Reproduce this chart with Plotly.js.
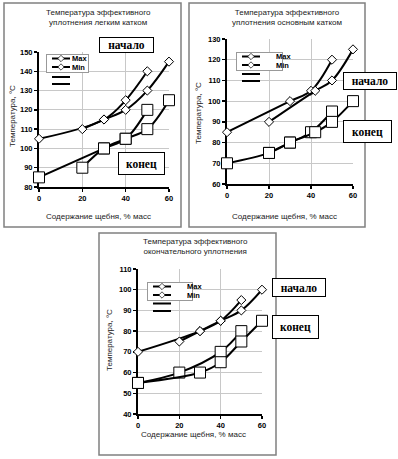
<!DOCTYPE html>
<html><head><meta charset="utf-8">
<script src="https://cdn.plot.ly/plotly-3.0.1.min.js"></script>
<style>html,body{margin:0;padding:0;background:#fff;}#chart{width:398px;height:459px;}</style>
</head><body><div id="chart"></div>
<script>
// ---- data ----
// Chart 1: light roller
const c1StartMaxX = [0, 30, 40, 50];
const c1StartMaxY = [105, 115, 125, 140];
const c1StartMinX = [20, 30, 40, 50, 60];
const c1StartMinY = [110, 115, 120, 130, 145];
const c1EndMaxX = [0, 30, 40, 50];
const c1EndMaxY = [85, 100, 105, 120];
const c1EndMinX = [20, 30, 40, 50, 60];
const c1EndMinY = [90, 100, 105, 110, 125];
// Chart 2: main roller
const c2StartMaxX = [0, 30, 40, 50];
const c2StartMaxY = [85, 100, 105, 120];
const c2StartMinX = [20, 42, 50, 60];
const c2StartMinY = [90, 105, 110, 125];
const c2EndMaxX = [0, 20, 30, 40, 50];
const c2EndMaxY = [70, 75, 80, 85, 95];
const c2EndMinX = [20, 30, 42, 50, 60];
const c2EndMinY = [75, 80, 85, 90, 100];
// Chart 3: final compaction
const c3StartMaxX = [0, 30, 40, 50];
const c3StartMaxY = [70, 80, 85, 95];
const c3StartMinX = [20, 30, 40, 50, 60];
const c3StartMinY = [75, 80, 85, 90, 100];
const c3EndMaxX = [0, 20, 40, 50];
const c3EndMaxY = [55, 60, 70, 80];
const c3EndMinX = [0, 30, 40, 50, 60];
const c3EndMinY = [55, 60, 65, 75, 85];

const seriesNames = ['Max', 'Min', ' ', ' '];
const xTickVals = [0, 20, 40, 60];
const y1Range = [80, 150];
const y2Range = [60, 130];
const y3Range = [40, 110];
const titles = ['Температура эффективного<br>уплотнения легким катком',
                'Температура эффективного<br>уплотнения основным катком',
                'Температура эффективного<br>окончательного уплотнения'];
const xTitle = 'Содержание щебня, % масс';
const yTitle = 'Температура, °C';
const startLabel = 'начало';
const endLabel = 'конец';

// ---- helpers ----
const W = 398, H = 459;
const px = v => v / W;
const py = v => 1 - v / H;
const SANS = 'Liberation Sans, Arial, sans-serif';
const SERIF = 'Liberation Serif, Times New Roman, serif';

function tr(x, y, xa, ya, sym, size, name, legend) {
  return {
    type: 'scatter', mode: 'lines+markers', x: x, y: y, xaxis: xa, yaxis: ya,
    name: name, legend: legend, showlegend: true, cliponaxis: false,
    line: {color: '#000', width: 2, shape: 'spline', smoothing: 1},
    marker: {symbol: sym, size: size, color: '#fff', line: {color: '#000', width: 1}}
  };
}
const DS = 7, SS = 11;
const data = [
  tr(c1StartMaxX, c1StartMaxY, 'x', 'y', 'diamond', DS, seriesNames[0], 'legend'),
  tr(c1StartMinX, c1StartMinY, 'x', 'y', 'diamond', DS, seriesNames[1], 'legend'),
  tr(c1EndMaxX, c1EndMaxY, 'x', 'y', 'square', SS, seriesNames[2], 'legend'),
  tr(c1EndMinX, c1EndMinY, 'x', 'y', 'square', SS, seriesNames[3], 'legend'),
  tr(c2StartMaxX, c2StartMaxY, 'x2', 'y2', 'diamond', DS, seriesNames[0], 'legend2'),
  tr(c2StartMinX, c2StartMinY, 'x2', 'y2', 'diamond', DS, seriesNames[1], 'legend2'),
  tr(c2EndMaxX, c2EndMaxY, 'x2', 'y2', 'square', SS, seriesNames[2], 'legend2'),
  tr(c2EndMinX, c2EndMinY, 'x2', 'y2', 'square', SS, seriesNames[3], 'legend2'),
  tr(c3StartMaxX, c3StartMaxY, 'x3', 'y3', 'diamond', DS, seriesNames[0], 'legend3'),
  tr(c3StartMinX, c3StartMinY, 'x3', 'y3', 'diamond', DS, seriesNames[1], 'legend3'),
  tr(c3EndMaxX, c3EndMaxY, 'x3', 'y3', 'square', SS, seriesNames[2], 'legend3'),
  tr(c3EndMinX, c3EndMinY, 'x3', 'y3', 'square', SS, seriesNames[3], 'legend3')
];

const tickFont = {family: SANS, size: 7.5, color: '#000', weight: 'bold'};
function xax(l, r, anchor) {
  return {domain: [px(l), px(r)], range: [0, 60], anchor: anchor, tickvals: xTickVals,
    showline: true, linecolor: '#000', linewidth: 2, ticks: 'outside', ticklen: 3, tickwidth: 1.5,
    tickcolor: '#000', showgrid: true, gridcolor: '#c8c8c8', gridwidth: 1, zeroline: false,
    tickfont: tickFont, layer: 'below traces', fixedrange: true};
}
function yax(t, b, range, anchor) {
  return {domain: [py(b), py(t)], range: range, anchor: anchor, dtick: 10, tick0: 0,
    showline: true, linecolor: '#000', linewidth: 2, ticks: 'outside', ticklen: 3, tickwidth: 1.5,
    tickcolor: '#000', showgrid: true, gridcolor: '#c8c8c8', gridwidth: 1, zeroline: false,
    tickfont: tickFont, layer: 'below traces', fixedrange: true};
}
const legendBase = {xanchor: 'left', yanchor: 'top', bgcolor: '#fff', bordercolor: '#999',
  borderwidth: 1, font: {family: SANS, size: 7.5, color: '#000', weight: 'bold'}, itemclick: false};

function txt(x, y, text, size, extra) {
  return Object.assign({xref: 'paper', yref: 'paper', x: px(x), y: py(y), text: text,
    showarrow: false, xanchor: 'center', yanchor: 'middle',
    font: {family: SANS, size: size, color: '#222'}}, extra || {});
}
function box(cx, cy, w, h, text) {
  return {xref: 'paper', yref: 'paper', x: px(cx), y: py(cy), text: text, showarrow: false,
    xanchor: 'center', yanchor: 'middle', width: w - 2, height: h - 2, align: 'center', valign: 'middle',
    bgcolor: '#fff', bordercolor: '#000', borderwidth: 1, borderpad: 0,
    font: {family: SERIF, size: 11.5, color: '#000', weight: 'bold'}};
}
function frame(x0, y0, x1, y1) {
  return {type: 'rect', xref: 'paper', yref: 'paper', x0: px(x0), x1: px(x1), y0: py(y1), y1: py(y0),
    line: {color: '#808080', width: 1.5}, fillcolor: 'rgba(0,0,0,0)', layer: 'below'};
}

const layout = {
  width: W, height: H, margin: {l: 0, r: 0, t: 0, b: 0, autoexpand: false},
  paper_bgcolor: '#fff', plot_bgcolor: '#fff', showlegend: true,
  xaxis: xax(39, 169, 'y'), yaxis: yax(52, 187, y1Range, 'x'),
  xaxis2: xax(227, 353, 'y2'), yaxis2: yax(39, 184, y2Range, 'x2'),
  xaxis3: xax(138, 262, 'y3'), yaxis3: yax(269, 414, y3Range, 'x3'),
  legend: Object.assign({x: px(46), y: py(55)}, legendBase),
  legend2: Object.assign({x: px(236), y: py(53)}, legendBase),
  legend3: Object.assign({x: px(147), y: py(283)}, legendBase),
  shapes: [frame(4, 3, 181, 227), frame(189, 3, 365, 227), frame(99, 233, 276, 455)],
  annotations: [
    txt(98.5, 18, titles[0], 8), txt(287, 18, titles[1], 8), txt(195, 246, titles[2], 8),
    txt(98, 216, xTitle, 8), txt(284, 216, xTitle, 8), txt(193, 434, xTitle, 8),
    txt(12, 116, yTitle, 8, {textangle: -90}), txt(199, 113, yTitle, 8, {textangle: -90}),
    txt(109, 340, yTitle, 8, {textangle: -90}),
    box(126.5, 45, 55, 16, startLabel), box(141.5, 163.5, 47, 23, endLabel),
    box(370, 81, 54, 18, startLabel), box(367.5, 131.5, 49, 23, endLabel),
    box(299, 287.5, 54, 19, startLabel), box(295.5, 327, 47, 24, endLabel)
  ]
};

// compact the legend entries like the original (Excel-style tight rows)
function fixLegend(id, left, top, w, h, rows) {
  const g = document.querySelector('g.' + id);
  if (!g) return;
  g.setAttribute('transform', 'translate(' + left + ',' + top + ')');
  const bg = g.querySelector('rect.bg');
  if (bg) { bg.setAttribute('x', 0.5); bg.setAttribute('y', 0.5); bg.setAttribute('width', w); bg.setAttribute('height', h); }
  const sb = g.querySelector('g.scrollbox');
  if (sb) { sb.setAttribute('transform', 'translate(0,0)'); sb.removeAttribute('clip-path'); }
  g.querySelectorAll('g.traces').forEach(function (t, i) {
    t.setAttribute('transform', 'translate(0,' + rows[i] + ')');
    t.querySelectorAll('.legendlines path').forEach(function (p) { p.setAttribute('d', 'M6,0h18'); });
    t.querySelectorAll('.legendpoints path').forEach(function (p) {
      if (i >= 2) p.style.display = 'none'; else p.setAttribute('transform', 'translate(15,0) scale(0.7)');
    });
    const tx = t.querySelector('text.legendtext');
    if (tx) tx.setAttribute('x', 26);
  });
}
function fixAll() {
  fixLegend('legend', 46, 54, 42, 18, [4.5, 13, 23, 30]);
  fixLegend('legend2', 236, 52, 46, 18, [4.5, 13, 22, 29]);
  fixLegend('legend3', 147, 282, 45, 18, [4.5, 13, 21.5, 29]);
}
Plotly.newPlot('chart', data, layout, {staticPlot: true, displayModeBar: false}).then(function () {
  fixAll();
  setTimeout(fixAll, 50);
});
</script></body></html>
